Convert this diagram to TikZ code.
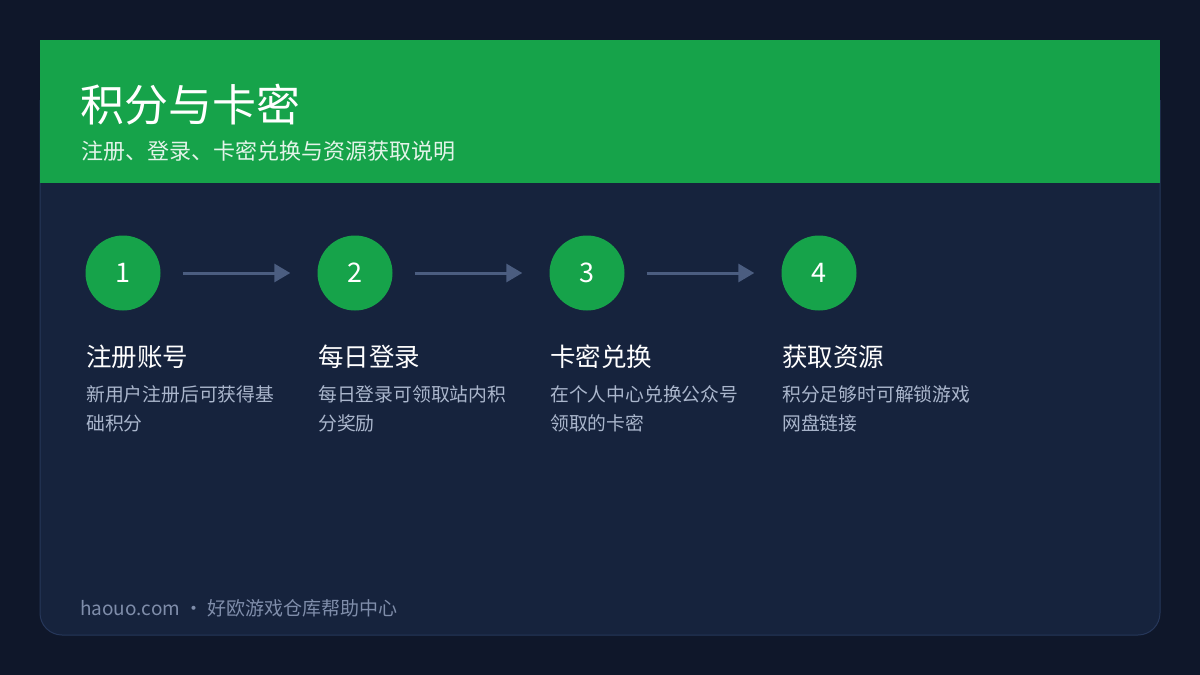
\documentclass[tikz,border=0pt]{standalone}
\usepackage{fontspec}
\setmainfont{Noto Sans CJK SC}
\usetikzlibrary{arrows.meta}
\definecolor{pagebg}{HTML}{0F172A}
\definecolor{cardbg}{HTML}{16233D}
\definecolor{cardline}{HTML}{26375A}
\definecolor{headgreen}{HTML}{16A34A}
\definecolor{arrowcol}{HTML}{4B5D80}
\definecolor{desccol}{HTML}{AAB6CC}
\definecolor{footcol}{HTML}{7F8DAA}
\tikzset{
  stepcircle/.style={circle,fill=headgreen,minimum size=75pt,inner sep=0pt,
    text=white,font=\fontsize{27}{27}\selectfont},
  steptitle/.style={anchor=west,text=white,inner sep=0pt,font=\fontsize{25.5}{25.5}\selectfont},
  stepdesc/.style={anchor=north west,text=desccol,inner sep=0pt,align=left,
    font=\fontsize{18.8}{29}\selectfont},
  flow/.style={arrowcol,line width=3pt,-{Triangle[length=16pt,width=18pt]}},
}
\begin{document}
\begin{tikzpicture}[x=1pt,y=-1pt]
  \fill[pagebg] (0,0) rectangle (1200,675);
  \useasboundingbox (0,0) rectangle (1200,675);
  % card
  \fill[cardbg,draw=cardline,line width=1pt,rounded corners=22pt]
    (40,100) -- (40,635) -- (1160,635) -- (1160,100);
  \fill[cardbg] (40,100) rectangle (1160,183);
  \fill[headgreen] (40,40) rectangle (1160,183);
  \node[anchor=west,text=white,inner sep=0pt,font=\fontsize{44}{44}\selectfont]
    (title) at (80,105) {积分与卡密};
  \node[anchor=west,text=white!88!headgreen,inner sep=0pt,font=\fontsize{22}{22}\selectfont]
    (subtitle) at (81,151) {注册、登录、卡密兑换与资源获取说明};
  % steps
  \node[stepcircle] (c1) at (123,273) {1};
  \node[stepcircle] (c2) at (355,273) {2};
  \node[stepcircle] (c3) at (587,273) {3};
  \node[stepcircle] (c4) at (819,273) {4};
  \foreach \a/\b in {c1/c2,c2/c3,c3/c4}
    \draw[flow] ([xshift=22pt]\a.east) -- ([xshift=-27pt]\b.west);
  \node[steptitle] (t1) at (86,357) {注册账号};
  \node[steptitle] (t2) at (318,357) {每日登录};
  \node[steptitle] (t3) at (550,357) {卡密兑换};
  \node[steptitle] (t4) at (782,357) {获取资源};
  \node[stepdesc] (d1) at (86,385) {新用户注册后可获得基\\础积分};
  \node[stepdesc] (d2) at (318,385) {每日登录可领取站内积\\分奖励};
  \node[stepdesc] (d3) at (550,385) {在个人中心兑换公众号\\领取的卡密};
  \node[stepdesc] (d4) at (782,385) {积分足够时可解锁游戏\\网盘链接};
  % footer
  \node[anchor=west,text=footcol,inner sep=0pt,font=\fontsize{19}{19}\selectfont]
    (footer) at (80,608) {haouo.com · 好欧游戏仓库帮助中心};
\end{tikzpicture}
\end{document}
